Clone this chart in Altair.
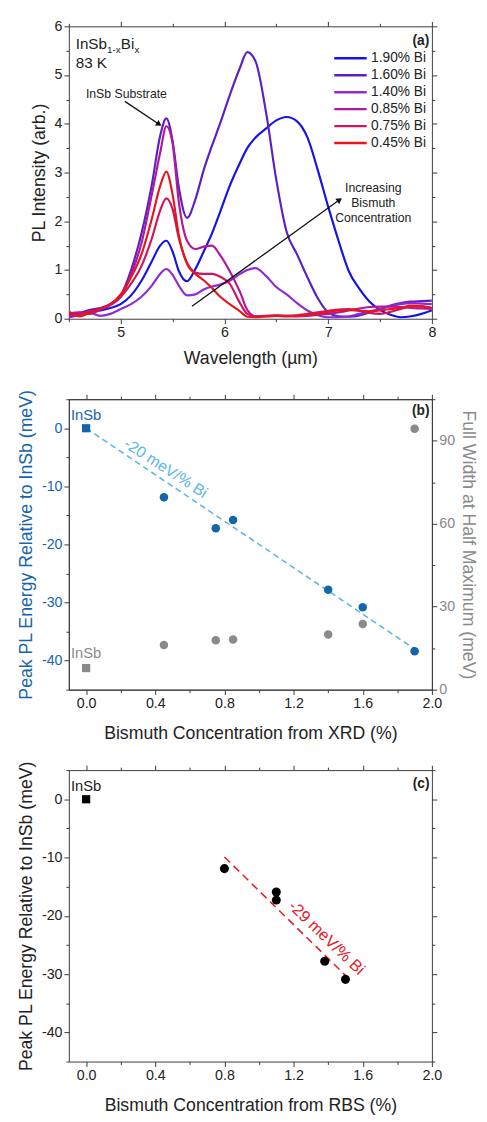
import altair as alt
import pandas as pd

FONT = "Liberation Sans"
INK = "#222222"
FRAME = "#3a3a3a"
BLUE = "#1565aa"
LIGHT_BLUE = "#5cb8e4"
GREY = "#8a8a8a"
RED = "#e4202a"

# ---------------- panel (a): PL spectra ----------------
wavelength = [4.5, 4.6, 4.7, 4.8, 4.9, 5.0, 5.1, 5.2, 5.3, 5.38, 5.44, 5.5, 5.56, 5.64,
              5.72, 5.8, 5.88, 5.96, 6.05, 6.15, 6.22, 6.3, 6.4, 6.5, 6.6, 6.7, 6.8, 6.9,
              7.0, 7.1, 7.2, 7.3, 7.4, 7.5, 7.6, 7.7, 7.8, 7.9, 8.0]
pl_190 = [0.04, 0.08, 0.13, 0.17, 0.22, 0.3, 0.48, 0.78, 1.18, 1.5, 1.6, 1.38, 0.98, 0.77,
          1.02, 1.38, 1.75, 2.2, 2.72, 3.2, 3.5, 3.72, 3.9, 4.07, 4.14, 4.05, 3.72, 3.05,
          2.3, 1.6, 0.97, 0.62, 0.35, 0.18, 0.08, 0.03, 0.05, 0.1, 0.17]
pl_160 = [0.08, 0.12, 0.18, 0.22, 0.3, 0.48, 1.0, 1.75, 2.75, 3.75, 4.11, 3.65, 2.7, 2.07,
          2.45, 3.05, 3.55, 4.02, 4.58, 5.15, 5.47, 5.28, 4.25, 2.85, 1.78, 1.32, 0.85, 0.42,
          0.13, 0.05, 0.04, 0.07, 0.13, 0.2, 0.27, 0.32, 0.35, 0.36, 0.37]
pl_140 = [0.03, 0.08, 0.12, 0.06, 0.1, 0.2, 0.3, 0.45, 0.68, 0.92, 1.02, 0.9, 0.68, 0.48,
          0.5, 0.6, 0.66, 0.7, 0.78, 0.92, 1.0, 1.04, 0.88, 0.65, 0.5, 0.32, 0.17, 0.07,
          0.03, 0.03, 0.05, 0.1, 0.15, 0.2, 0.26, 0.3, 0.32, 0.31, 0.3]
pl_085 = [0.1, 0.13, 0.1, 0.18, 0.28, 0.45, 0.9, 1.55, 2.55, 3.4, 3.95, 3.6, 2.4, 1.6,
          1.43, 1.48, 1.5, 1.3, 0.98, 0.55, 0.18, 0.05, 0.05, 0.06, 0.06, 0.05, 0.06, 0.08,
          0.1, 0.13, 0.17, 0.21, 0.24, 0.25, 0.25, 0.24, 0.22, 0.21, 0.2]
pl_075 = [0.05, 0.1, 0.15, 0.2, 0.3, 0.45, 0.72, 1.08, 1.65, 2.22, 2.47, 2.25, 1.65, 1.15,
          0.95, 0.92, 0.92, 0.86, 0.72, 0.32, 0.1, 0.05, 0.06, 0.07, 0.06, 0.07, 0.1, 0.13,
          0.16, 0.19, 0.2, 0.17, 0.12, 0.1, 0.14, 0.2, 0.25, 0.25, 0.22]
pl_045 = [0.15, 0.05, 0.12, 0.2, 0.3, 0.5, 0.85, 1.32, 2.05, 2.72, 3.02, 2.55, 1.72, 1.12,
          0.92, 0.79, 0.63, 0.45, 0.3, 0.15, 0.04, 0.03, 0.05, 0.06, 0.05, 0.06, 0.08, 0.1,
          0.14, 0.17, 0.18, 0.16, 0.15, 0.17, 0.2, 0.22, 0.27, 0.26, 0.22]
series_labels = ["1.90% Bi", "1.60% Bi", "1.40% Bi", "0.85% Bi", "0.75% Bi", "0.45% Bi"]
series_colors = ["#1414e6", "#5b1fc4", "#8f2bd6", "#b3179f", "#cc1660", "#e8161b"]
series_values = [pl_190, pl_160, pl_140, pl_085, pl_075, pl_045]

a_x_major = [5, 6, 7, 8]
a_x_minor = [4.5, 5.5, 6.5, 7.5]
a_y_major = [0, 1, 2, 3, 4, 5, 6]
a_y_minor = [0.5, 1.5, 2.5, 3.5, 4.5, 5.5]

formula_x, formula_y = [4.566], [5.53]
temp_x, temp_y, temp_label = [4.566], [5.145], ["83 K"]
substrate_x, substrate_y, substrate_label = [5.055], [4.53], ["InSb Substrate"]
arrow1_x, arrow1_y = [5.04, 5.37], [4.46, 3.99]
increase_x = [7.435, 7.435, 7.435]
increase_y = [2.68, 2.38, 2.07]
increase_label = ["Increasing", "Bismuth", "Concentration"]
arrow2_x, arrow2_y = [5.687, 7.11], [0.255, 2.44]
tag_a_x, tag_a_y = [7.975], [5.61]

# ---------------- panel (b): XRD ----------------
xrd_bi = [0.45, 0.75, 0.85, 1.40, 1.60, 1.90]
xrd_shift = [-11.9, -17.2, -15.8, -27.8, -30.8, -38.4]
xrd_fwhm = [16.1, 17.9, 18.1, 19.9, 23.7, 94.3]
insb_bi, insb_shift, insb_fwhm = [0.0], [0.0], [7.8]
fit_b_x, fit_b_y = [0.0, 1.9], [0.0, -38.0]
slope_b_x, slope_b_y, slope_b_label = [0.46], [-6.9], ["-20 meV/% Bi"]
insb_b_lab_y = [1.5]
insb_g_lab_y = [11.6]
tag_b_x, tag_b_y = [1.986], [2.25]

# ---------------- panel (c): RBS ----------------
rbs_bi = [0.80, 1.10, 1.10, 1.38, 1.50]
rbs_shift = [-11.9, -15.9, -17.3, -27.8, -30.9]
fit_c_x, fit_c_y = [0.80, 1.52], [-9.9, -30.8]
slope_c_x, slope_c_y, slope_c_label = [1.39], [-23.8], ["-29 meV/% Bi"]
tag_c_x, tag_c_y = [1.986], [2.0]

bc_x_major = [0.0, 0.4, 0.8, 1.2, 1.6, 2.0]
bc_x_minor = [0.2, 0.6, 1.0, 1.4, 1.8]
bc_y_major = [-40, -30, -20, -10, 0]
bc_y_minor = [-45, -35, -25, -15, -5, 5]
g_y_major = [0, 30, 60, 90]
g_y_minor = [15, 45, 75, 105]

XA, YA = [4.5, 8.0], [0, 6]
XB, YB, YG = [-0.1, 2.0], [-45, 5], [0, 105]

INT_FMT = "'' + datum.value"
DEC_FMT = "format(datum.value, '.1f')"
MAJOR, MINOR = 5, 3

# The FWHM (right) axis of panel (b) shares the plot's vertical scale:
# a FWHM value v sits where the energy scale has YB0 + v * K.
K = (YB[1] - YB[0]) / (YG[1] - YG[0])
YB0 = YB[0] - YG[0] * K
TO_ENERGY = f"{YB0} + datum.y * {K}"
FROM_ENERGY = f"'' + round((datum.value - {YB0}) / {K})"


def sc(domain):
    return alt.Scale(domain=domain, nice=False, zero=False)


def ax(orient, values, color, size=MAJOR, domain=True, fmt=None, label_color=INK,
       title=None, title_color=INK, title_padding=6, ticks=True, label_padding=2):
    args = dict(orient=orient, values=values, grid=False, domain=domain,
                tickSize=size, labels=fmt is not None, title=title, ticks=ticks,
                domainColor=color, domainWidth=1, tickColor=color, tickWidth=1,
                domainOpacity=1, tickOpacity=1)
    if fmt is not None:
        args.update(labelExpr=fmt, labelColor=label_color, labelPadding=label_padding,
                    labelFontSize=14.5, labelFont=FONT, labelOverlap=False,
                    labelFlush=False)
    if title:
        args.update(titleColor=title_color, titlePadding=title_padding,
                    titleFont=FONT, titleFontSize=18, titleFontWeight="normal")
    return alt.Axis(**args)


def axis_layer(df, xcol, ycol, xdom, ydom, xaxis, yaxis):
    return alt.Chart(df).mark_point(opacity=0).encode(
        x=alt.X(xcol, scale=sc(xdom), axis=xaxis),
        y=alt.Y(ycol, scale=sc(ydom), axis=yaxis),
    )


def text_layer(xs, ys, labels, xdom, ydom, to_energy=False, **mark):
    df = pd.DataFrame({"x": xs, "y": ys, "label": labels})
    base = alt.Chart(df)
    ycol = "y:Q"
    if to_energy:
        base = base.transform_calculate(ye=TO_ENERGY)
        ycol = "ye:Q"
    return base.mark_text(font=FONT, **mark).encode(
        x=alt.X("x:Q", scale=sc(xdom), axis=None),
        y=alt.Y(ycol, scale=sc(ydom), axis=None),
        text="label:N",
    )


def line_layer(xs, ys, xdom, ydom, **mark):
    df = pd.DataFrame({"x": xs, "y": ys})
    return alt.Chart(df).mark_line(**mark).encode(
        x=alt.X("x:Q", scale=sc(xdom), axis=None),
        y=alt.Y("y:Q", scale=sc(ydom), axis=None),
    )


def head_layer(xs, ys, angle, xdom, ydom):
    df = pd.DataFrame({"x": xs[-1:], "y": ys[-1:]})
    return alt.Chart(df).mark_point(shape="triangle-right", filled=True, size=45,
                                    angle=angle, color="#111111", opacity=1).encode(
        x=alt.X("x:Q", scale=sc(xdom), axis=None),
        y=alt.Y("y:Q", scale=sc(ydom), axis=None),
    )


# ---------- panel (a) ----------
rows = []
for lab, vals in zip(series_labels, series_values):
    for w, v in zip(wavelength, vals):
        rows.append({"wl": w, "pl": v, "sample": lab})
df_a = pd.DataFrame(rows)

spectra = alt.Chart(df_a).mark_line(strokeWidth=2.2, interpolate="monotone", clip=True).encode(
    x=alt.X("wl:Q", scale=sc(XA),
            axis=ax("bottom", a_x_major, FRAME, fmt=INT_FMT,
                    title="Wavelength (µm)", title_padding=11)),
    y=alt.Y("pl:Q", scale=sc(YA),
            axis=ax("left", a_y_major, FRAME, fmt=INT_FMT, title="PL Intensity (arb.)")),
    color=alt.Color("sample:N", scale=alt.Scale(domain=series_labels, range=series_colors),
                    legend=alt.Legend(title=None, orient="none", legendX=269, legendY=25,
                                      symbolType="stroke", symbolSize=1089,
                                      symbolStrokeWidth=2.5, clipHeight=15, rowPadding=2.3,
                                      labelFontSize=14, labelFont=FONT, labelColor=INK,
                                      labelOffset=3, padding=0)),
)

panel_a = alt.layer(
    axis_layer(df_a, "wl:Q", "pl:Q", XA, YA,
               ax("bottom", a_x_minor, FRAME, size=MINOR, domain=False),
               ax("left", a_y_minor, FRAME, size=MINOR, domain=False)),
    axis_layer(df_a, "wl:Q", "pl:Q", XA, YA,
               ax("top", a_x_major, FRAME), ax("right", a_y_major, FRAME)),
    axis_layer(df_a, "wl:Q", "pl:Q", XA, YA,
               ax("top", a_x_minor, FRAME, size=MINOR, domain=False),
               ax("right", a_y_minor, FRAME, size=MINOR, domain=False)),
    spectra,
    text_layer(formula_x, formula_y, ["InSb"], XA, YA, fontSize=15.5, align="left", baseline="alphabetic", color=INK),
    text_layer(formula_x, formula_y, ["1-x"], XA, YA, fontSize=10, align="left", baseline="alphabetic", dx=32, dy=3.5, color=INK),
    text_layer(formula_x, formula_y, ["Bi"], XA, YA, fontSize=15.5, align="left", baseline="alphabetic", dx=46, color=INK),
    text_layer(formula_x, formula_y, ["x"], XA, YA, fontSize=10, align="left", baseline="alphabetic", dx=60, dy=3.5, color=INK),
    text_layer(temp_x, temp_y, temp_label, XA, YA, fontSize=15.5, align="left", baseline="alphabetic", color=INK),
    text_layer(substrate_x, substrate_y, substrate_label, XA, YA, fontSize=12.5, align="center", baseline="alphabetic", color=INK),
    text_layer(increase_x, increase_y, increase_label, XA, YA, fontSize=12.5, align="center", baseline="middle", color=INK),
    text_layer(tag_a_x, tag_a_y, ["(a)"], XA, YA, fontSize=14, fontWeight="bold", align="right", baseline="alphabetic", color=INK),
    line_layer(arrow1_x, arrow1_y, XA, YA, color="#111111", strokeWidth=1.3),
    head_layer(arrow1_x, arrow1_y, 34, XA, YA),
    line_layer(arrow2_x, arrow2_y, XA, YA, color="#111111", strokeWidth=1.3),
    head_layer(arrow2_x, arrow2_y, 324, XA, YA),
).resolve_axis(x="independent", y="independent").properties(width=370, height=298)

# ---------- panel (b) ----------
df_b = pd.DataFrame({"x": xrd_bi, "y": xrd_shift})
df_b0 = pd.DataFrame({"x": insb_bi, "y": insb_shift})
df_g = pd.DataFrame({"x": xrd_bi, "y": xrd_fwhm})
df_g0 = pd.DataFrame({"x": insb_bi, "y": insb_fwhm})

g_major_pos = [YB0 + v * K for v in g_y_major]
g_minor_pos = [YB0 + v * K for v in g_y_minor]

blue_pts = alt.Chart(df_b).mark_circle(size=75, color=BLUE, opacity=1).encode(
    x=alt.X("x:Q", scale=sc(XB),
            axis=ax("bottom", bc_x_major, FRAME, fmt=DEC_FMT,
                    title="Bismuth Concentration from XRD (%)", title_padding=15)),
    y=alt.Y("y:Q", scale=sc(YB),
            axis=ax("left", bc_y_major, FRAME, fmt=INT_FMT, label_color=BLUE,
                    title="Peak PL Energy Relative to InSb (meV)", title_color=BLUE)),
)
blue_sq = alt.Chart(df_b0).mark_square(size=70, color=BLUE, opacity=1).encode(
    x=alt.X("x:Q", scale=sc(XB), axis=None), y=alt.Y("y:Q", scale=sc(YB), axis=None))

grey_pts = alt.Chart(df_g).transform_calculate(ye=TO_ENERGY).mark_circle(
    size=75, color=GREY, opacity=1).encode(
    x=alt.X("x:Q", scale=sc(XB), axis=None),
    y=alt.Y("ye:Q", scale=sc(YB),
            axis=ax("right", g_major_pos, FRAME, fmt=FROM_ENERGY, label_color=GREY,
                    title="Full Width at Half Maximum (meV)", title_color=GREY,
                    title_padding=4, domain=False, ticks=False,
                    label_padding=MAJOR + 2)),
)
grey_sq = alt.Chart(df_g0).transform_calculate(ye=TO_ENERGY).mark_square(
    size=70, color=GREY, opacity=1).encode(
    x=alt.X("x:Q", scale=sc(XB), axis=None), y=alt.Y("ye:Q", scale=sc(YB), axis=None))

panel_b = alt.layer(
    axis_layer(df_b, "x:Q", "y:Q", XB, YB,
               ax("bottom", bc_x_minor, FRAME, size=MINOR, domain=False),
               ax("left", bc_y_minor, FRAME, size=MINOR, domain=False)),
    axis_layer(df_b, "x:Q", "y:Q", XB, YB, ax("top", bc_x_major, FRAME),
               ax("right", g_major_pos, FRAME)),
    axis_layer(df_b, "x:Q", "y:Q", XB, YB,
               ax("top", bc_x_minor, FRAME, size=MINOR, domain=False),
               ax("right", g_minor_pos, FRAME, size=MINOR, domain=False)),
    line_layer(fit_b_x, fit_b_y, XB, YB, color=LIGHT_BLUE, strokeWidth=1.6, strokeDash=[6, 4]),
    blue_pts,
    blue_sq,
    grey_pts,
    grey_sq,
    text_layer(insb_bi, insb_b_lab_y, ["InSb"], XB, YB, fontSize=15, align="center", baseline="alphabetic", color=BLUE),
    text_layer(insb_bi, insb_g_lab_y, ["InSb"], XB, YB, to_energy=True, fontSize=15, align="center", baseline="alphabetic", color=GREY),
    text_layer(slope_b_x, slope_b_y, slope_b_label, XB, YB, fontSize=16, align="center", baseline="middle", angle=33, color=LIGHT_BLUE),
    text_layer(tag_b_x, tag_b_y, ["(b)"], XB, YB, fontSize=14, fontWeight="bold", align="right", baseline="alphabetic", color=INK),
).resolve_axis(x="independent", y="independent").properties(
    width=370, height=296,
    view=alt.ViewBackground(stroke=FRAME, strokeWidth=1),
)

# ---------- panel (c) ----------
df_c = pd.DataFrame({"x": rbs_bi, "y": rbs_shift})
black_pts = alt.Chart(df_c).mark_circle(size=85, color="#000000", opacity=1).encode(
    x=alt.X("x:Q", scale=sc(XB),
            axis=ax("bottom", bc_x_major, FRAME, fmt=DEC_FMT,
                    title="Bismuth Concentration from RBS (%)", title_padding=15)),
    y=alt.Y("y:Q", scale=sc(YB),
            axis=ax("left", bc_y_major, FRAME, fmt=INT_FMT,
                    title="Peak PL Energy Relative to InSb (meV)")),
)
black_sq = alt.Chart(df_b0).mark_square(size=70, color="#000000", opacity=1).encode(
    x=alt.X("x:Q", scale=sc(XB), axis=None), y=alt.Y("y:Q", scale=sc(YB), axis=None))

panel_c = alt.layer(
    axis_layer(df_c, "x:Q", "y:Q", XB, YB,
               ax("bottom", bc_x_minor, FRAME, size=MINOR, domain=False),
               ax("left", bc_y_minor, FRAME, size=MINOR, domain=False)),
    axis_layer(df_c, "x:Q", "y:Q", XB, YB, ax("top", bc_x_major, FRAME),
               ax("right", bc_y_major, FRAME)),
    axis_layer(df_c, "x:Q", "y:Q", XB, YB,
               ax("top", bc_x_minor, FRAME, size=MINOR, domain=False),
               ax("right", bc_y_minor, FRAME, size=MINOR, domain=False)),
    line_layer(fit_c_x, fit_c_y, XB, YB, color=RED, strokeWidth=1.6, strokeDash=[8, 5]),
    black_pts,
    black_sq,
    text_layer(insb_bi, insb_b_lab_y, ["InSb"], XB, YB, fontSize=15, align="center", baseline="alphabetic", color=INK),
    text_layer(slope_c_x, slope_c_y, slope_c_label, XB, YB, fontSize=16.5, align="center", baseline="middle", angle=44, color=RED),
    text_layer(tag_c_x, tag_c_y, ["(c)"], XB, YB, fontSize=14, fontWeight="bold", align="right", baseline="alphabetic", color=INK),
).resolve_axis(x="independent", y="independent").properties(width=370, height=297)

chart = alt.vconcat(panel_a, panel_b, panel_c, spacing=82, bounds="flush").configure_view(
    stroke=None
).configure_axis(
    labelFont=FONT, titleFont=FONT
).properties(
    padding={"left": 9, "top": 0, "right": 2, "bottom": 0},
    background="white",
)

chart.save("out.html", embed_options={"renderer": "svg", "actions": False})
